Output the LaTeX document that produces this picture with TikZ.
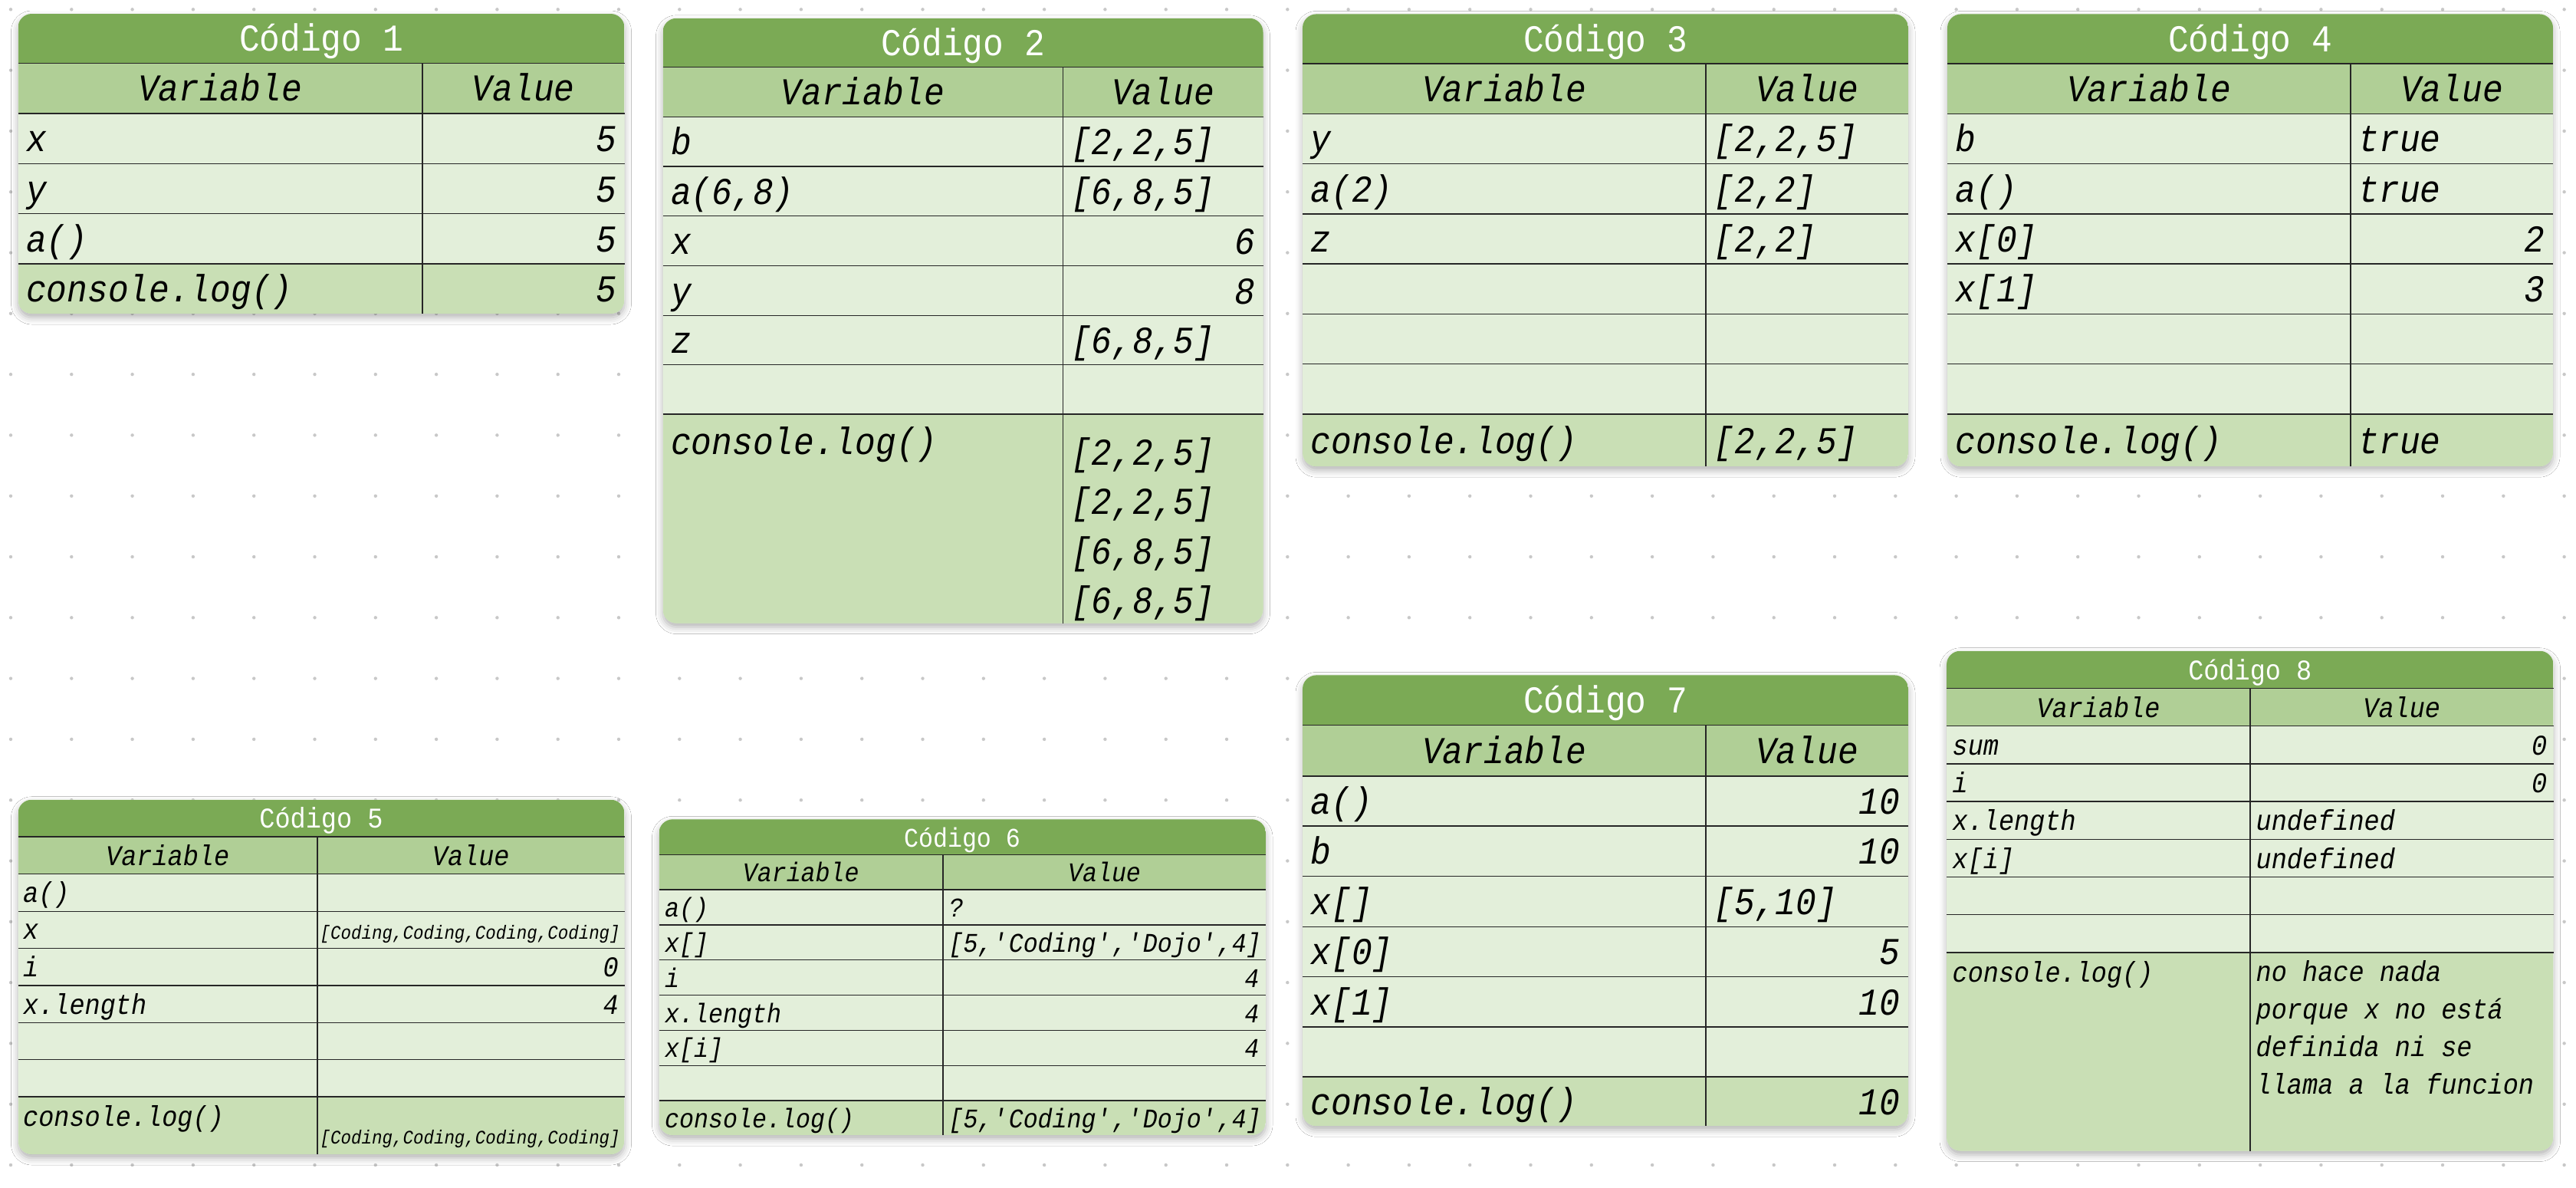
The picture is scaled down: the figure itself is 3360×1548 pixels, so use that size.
\documentclass[tikz,border=0pt]{standalone}
\usepackage{fontspec}
\setmonofont[FakeStretch=0.9]{Liberation Mono}
\usetikzlibrary{shadows.blur}
\definecolor{titlegreen}{HTML}{7BAA55}
\definecolor{headgreen}{HTML}{B0CF96}
\definecolor{rowgreen}{HTML}{E3EFDA}
\definecolor{loggreen}{HTML}{C9DFB5}
\definecolor{dotgrey}{HTML}{C8C8C8}
\tikzset{
  card/.style={fill=rowgreen, rounded corners=.18cm,
    blur shadow={shadow xshift=0pt, shadow yshift=-.05cm, shadow blur radius=.09cm, shadow opacity=30}},
  rule/.style={line width=.4pt, black!85},
  fontA/.style={font=\ttfamily\itshape\fontsize{14.07}{17}\selectfont},
  fontB/.style={font=\ttfamily\itshape\fontsize{10.6}{13}\selectfont},
  fontC/.style={font=\ttfamily\itshape\fontsize{10}{12}\selectfont},
  fontD/.style={font=\ttfamily\itshape\fontsize{7.1}{9}\selectfont},
  var/.style={inner sep=0pt, anchor=base west},
  val/.style={inner sep=0pt, anchor=base east},
  hdr/.style={inner sep=0pt, anchor=base},
  ttl/.style={inner sep=0pt, anchor=base, text=white},
}

\begin{document}
\begin{tikzpicture}[x=0.01cm,y=-0.01cm]
    \useasboundingbox (0,0) rectangle (3360,1548);
    \fill[white] (0,0) rectangle (3360,1548);
    % dotted paper
    \foreach \i in {0,...,42}
      \foreach \j in {0,...,19}
        \fill[dotgrey] (14+79.3*\i,12.3+79.3*\j) circle (.022cm);

    % Codigo 1
    \path[card] (23.5,18) rectangle (814.5,409);
    \begin{scope}
      \clip[rounded corners=.18cm] (23.5,18) rectangle (814.5,409);
      \fill[titlegreen] (23.5,18) rectangle (814.5,82.7);
      \fill[headgreen] (23.5,82.7) rectangle (814.5,148);
      \fill[loggreen] (23.5,344) rectangle (814.5,409);
    \end{scope}
    \foreach \y in {82.7,148,213.3,278.6,344} \draw[rule] (23.5,\y) -- (814.5,\y);
    \draw[rule] (551,82.7) -- (551,409);
    \begin{scope}[fontA]
      \node[ttl] (t1title) at (419,66.7) {\upshape Código 1};
      \node[hdr] (t1hvar) at (287,131.5) {Variable};
      \node[hdr] (t1hval) at (682.75,131.5) {Value};
      \node[var] (t1x) at (33.5,197.7) {x};
      \node[val] (t1xv) at (804.5,197.7) {5};
      \node[var] (t1y) at (33.5,263) {y};
      \node[val] (t1yv) at (804.5,263) {5};
      \node[var] (t1a) at (33.5,328.3) {a()};
      \node[val] (t1av) at (804.5,328.3) {5};
      \node[var] (t1log) at (33.5,393.5) {console.log()};
      \node[val] (t1logv) at (804.5,393.5) {5};
    \end{scope}

    % Codigo 2
    \path[card] (864.5,23.8) rectangle (1647.5,812.6);
    \begin{scope}
      \clip[rounded corners=.18cm] (864.5,23.8) rectangle (1647.5,812.6);
      \fill[titlegreen] (864.5,23.8) rectangle (1647.5,87.3);
      \fill[headgreen] (864.5,87.3) rectangle (1647.5,152.5);
      \fill[loggreen] (864.5,540) rectangle (1647.5,812.6);
    \end{scope}
    \foreach \y in {87.3,152.5,217,281.6,346.7,411.3,475.4,540} \draw[rule] (864.5,\y) -- (1647.5,\y);
    \draw[rule] (1386.5,87.3) -- (1386.5,812.6);
    \begin{scope}[fontA]
      \node[ttl] (t2title) at (1256,72) {\upshape Código 2};
      \node[hdr] (t2hvar) at (1125.5,136) {Variable};
      \node[hdr] (t2hval) at (1517,136) {Value};
      \node[var] (t2b) at (874.5,201.75) {b};
      \node[var] (t2bv) at (1396.5,201.75) {[2,2,5]};
      \node[var] (t2a) at (874.5,266.3) {a(6,8)};
      \node[var] (t2av) at (1396.5,266.3) {[6,8,5]};
      \node[var] (t2x) at (874.5,331.2) {x};
      \node[val] (t2xv) at (1637.5,331.2) {6};
      \node[var] (t2y) at (874.5,396) {y};
      \node[val] (t2yv) at (1637.5,396) {8};
      \node[var] (t2z) at (874.5,460.4) {z};
      \node[var] (t2zv) at (1396.5,460.4) {[6,8,5]};
      \node[var] (t2log) at (874.5,592) {console.log()};
      \node[var] (t2log1) at (1396.5,606) {[2,2,5]};
      \node[var] (t2log2) at (1396.5,670.5) {[2,2,5]};
      \node[var] (t2log3) at (1396.5,735) {[6,8,5]};
      \node[var] (t2log4) at (1396.5,799.5) {[6,8,5]};
    \end{scope}

    % Codigo 3
    \path[card] (1699,18.4) rectangle (2489,608.2);
    \begin{scope}
      \clip[rounded corners=.18cm] (1699,18.4) rectangle (2489,608.2);
      \fill[titlegreen] (1699,18.4) rectangle (2489,82.9);
      \fill[headgreen] (1699,82.9) rectangle (2489,148.2);
      \fill[loggreen] (1699,540) rectangle (2489,608.2);
    \end{scope}
    \foreach \y in {82.9,148.2,213.5,278.8,344,409.4,474.7,540} \draw[rule] (1699,\y) -- (2489,\y);
    \draw[rule] (2225,82.9) -- (2225,608.2);
    \begin{scope}[fontA]
      \node[ttl] (t3title) at (2094,67) {\upshape Código 3};
      \node[hdr] (t3hvar) at (1962,132) {Variable};
      \node[hdr] (t3hval) at (2357,132) {Value};
      \node[var] (t3y) at (1709,197.85) {y};
      \node[var] (t3yv) at (2235,197.85) {[2,2,5]};
      \node[var] (t3a) at (1709,263.15) {a(2)};
      \node[var] (t3av) at (2235,263.15) {[2,2]};
      \node[var] (t3z) at (1709,328.4) {z};
      \node[var] (t3zv) at (2235,328.4) {[2,2]};
      \node[var] (t3log) at (1709,591.1) {console.log()};
      \node[var] (t3logv) at (2235,591.1) {[2,2,5]};
    \end{scope}

    % Codigo 4
    \path[card] (2540,18.4) rectangle (3330,608.2);
    \begin{scope}
      \clip[rounded corners=.18cm] (2540,18.4) rectangle (3330,608.2);
      \fill[titlegreen] (2540,18.4) rectangle (3330,82.9);
      \fill[headgreen] (2540,82.9) rectangle (3330,148.2);
      \fill[loggreen] (2540,540) rectangle (3330,608.2);
    \end{scope}
    \foreach \y in {82.9,148.2,213.5,278.8,344,409.4,474.7,540} \draw[rule] (2540,\y) -- (3330,\y);
    \draw[rule] (3066,82.9) -- (3066,608.2);
    \begin{scope}[fontA]
      \node[ttl] (t4title) at (2935,67) {\upshape Código 4};
      \node[hdr] (t4hvar) at (2803,132) {Variable};
      \node[hdr] (t4hval) at (3198,132) {Value};
      \node[var] (t4b) at (2550,197.85) {b};
      \node[var] (t4bv) at (3076,197.85) {true};
      \node[var] (t4a) at (2550,263.15) {a()};
      \node[var] (t4av) at (3076,263.15) {true};
      \node[var] (t4x0) at (2550,328.4) {x[0]};
      \node[val] (t4x0v) at (3320,328.4) {2};
      \node[var] (t4x1) at (2550,393.7) {x[1]};
      \node[val] (t4x1v) at (3320,393.7) {3};
      \node[var] (t4log) at (2550,591.1) {console.log()};
      \node[var] (t4logv) at (3076,591.1) {true};
    \end{scope}

    % Codigo 5
    \path[card] (23.5,1042.7) rectangle (814.5,1505);
    \begin{scope}
      \clip[rounded corners=.18cm] (23.5,1042.7) rectangle (814.5,1505);
      \fill[titlegreen] (23.5,1042.7) rectangle (814.5,1091);
      \fill[headgreen] (23.5,1091) rectangle (814.5,1139.3);
      \fill[loggreen] (23.5,1430) rectangle (814.5,1505);
    \end{scope}
    \foreach \y in {1091,1139.3,1188.3,1236.7,1285,1333.3,1381.7,1430} \draw[rule] (23.5,\y) -- (814.5,\y);
    \draw[rule] (414,1091) -- (414,1505);
    \begin{scope}[fontB]
      \node[ttl] (t5title) at (419,1079.5) {\upshape Código 5};
      \node[hdr] (t5hvar) at (218.75,1128) {Variable};
      \node[hdr] (t5hval) at (614.25,1128) {Value};
      \node[var] (t5a) at (29.5,1176.8) {a()};
      \node[var] (t5x) at (29.5,1224.5) {x};
      \node[var,fontD] (t5xv) at (417,1224.5) {[Coding,Coding,Coding,Coding]};
      \node[var] (t5i) at (29.5,1273.85) {i};
      \node[val] (t5iv) at (807.5,1273.85) {0};
      \node[var] (t5len) at (29.5,1322) {x.length};
      \node[val] (t5lenv) at (807.5,1322) {4};
      \node[var] (t5log) at (29.5,1468) {console.log()};
      \node[var,fontD] (t5logv) at (417,1491) {[Coding,Coding,Coding,Coding]};
    \end{scope}

    % Codigo 6
    \path[card] (859.5,1068.3) rectangle (1651,1480);
    \begin{scope}
      \clip[rounded corners=.18cm] (859.5,1068.3) rectangle (1651,1480);
      \fill[titlegreen] (859.5,1068.3) rectangle (1651,1114.3);
      \fill[headgreen] (859.5,1114.3) rectangle (1651,1160);
      \fill[loggreen] (859.5,1435) rectangle (1651,1480);
    \end{scope}
    \foreach \y in {1114.3,1160,1206,1251.7,1297.7,1343.3,1389.3,1435} \draw[rule] (859.5,\y) -- (1651,\y);
    \draw[rule] (1230,1114.3) -- (1230,1480);
    \begin{scope}[fontC]
      \node[ttl] (t6title) at (1255,1104) {\upshape Código 6};
      \node[hdr] (t6hvar) at (1044.75,1149.6) {Variable};
      \node[hdr] (t6hval) at (1440.5,1149.6) {Value};
      \node[var] (t6a) at (866.5,1195.5) {a()};
      \node[var] (t6av) at (1237,1195.5) {?};
      \node[var] (t6x) at (866.5,1241.3) {x[]};
      \node[var] (t6xv) at (1237,1241.3) {[5,\textquotesingle Coding\textquotesingle,\textquotesingle Dojo\textquotesingle,4]};
      \node[var] (t6i) at (866.5,1287.2) {i};
      \node[val] (t6iv) at (1643,1287.2) {4};
      \node[var] (t6len) at (866.5,1333) {x.length};
      \node[val] (t6lenv) at (1643,1333) {4};
      \node[var] (t6xi) at (866.5,1378.8) {x[i]};
      \node[val] (t6xiv) at (1643,1378.8) {4};
      \node[var] (t6log) at (866.5,1470) {console.log()};
      \node[var] (t6logv) at (1237,1470) {[5,\textquotesingle Coding\textquotesingle,\textquotesingle Dojo\textquotesingle,4]};
    \end{scope}

    % Codigo 7
    \path[card] (1699,880.4) rectangle (2489,1468.2);
    \begin{scope}
      \clip[rounded corners=.18cm] (1699,880.4) rectangle (2489,1468.2);
      \fill[titlegreen] (1699,880.4) rectangle (2489,945.7);
      \fill[headgreen] (1699,945.7) rectangle (2489,1011.8);
      \fill[loggreen] (1699,1404) rectangle (2489,1468.2);
    \end{scope}
    \foreach \y in {945.7,1011.8,1077.1,1142.4,1208.2,1273.5,1338.8,1404} \draw[rule] (1699,\y) -- (2489,\y);
    \draw[rule] (2225,945.7) -- (2225,1468.2);
    \begin{scope}[fontA]
      \node[ttl] (t7title) at (2094,929.5) {\upshape Código 7};
      \node[hdr] (t7hvar) at (1962,995.75) {Variable};
      \node[hdr] (t7hval) at (2357,995.75) {Value};
      \node[var] (t7a) at (1709,1061.45) {a()};
      \node[val] (t7av) at (2479,1061.45) {10};
      \node[var] (t7b) at (1709,1126.75) {b};
      \node[val] (t7bv) at (2479,1126.75) {10};
      \node[var] (t7x) at (1709,1192.3) {x[]};
      \node[var] (t7xv) at (2235,1192.3) {[5,10]};
      \node[var] (t7x0) at (1709,1257.85) {x[0]};
      \node[val] (t7x0v) at (2479,1257.85) {5};
      \node[var] (t7x1) at (1709,1323.15) {x[1]};
      \node[val] (t7x1v) at (2479,1323.15) {10};
      \node[var] (t7log) at (1709,1453.1) {console.log()};
      \node[val] (t7logv) at (2479,1453.1) {10};
    \end{scope}

    % Codigo 8
    \path[card] (2539,848.7) rectangle (3330.5,1500.5);
    \begin{scope}
      \clip[rounded corners=.18cm] (2539,848.7) rectangle (3330.5,1500.5);
      \fill[titlegreen] (2539,848.7) rectangle (3330.5,897.7);
      \fill[headgreen] (2539,897.7) rectangle (3330.5,946.7);
      \fill[loggreen] (2539,1242) rectangle (3330.5,1500.5);
    \end{scope}
    \foreach \y in {897.7,946.7,996.1,1045.1,1094.6,1143.6,1192.6,1242} \draw[rule] (2539,\y) -- (3330.5,\y);
    \draw[rule] (2935,897.7) -- (2935,1500.5);
    \begin{scope}[fontB]
      \node[ttl] (t8title) at (2934.75,886) {\upshape Código 8};
      \node[hdr] (t8hvar) at (2737,935) {Variable};
      \node[hdr] (t8hval) at (3132.75,935) {Value};
      \node[var] (t8sum) at (2546,984.4) {sum};
      \node[val] (t8sumv) at (3323,984.4) {0};
      \node[var] (t8i) at (2546,1033.6) {i};
      \node[val] (t8iv) at (3323,1033.6) {0};
      \node[var] (t8len) at (2546,1082.85) {x.length};
      \node[var] (t8lenv) at (2942,1082.85) {undefined};
      \node[var] (t8xi) at (2546,1132.1) {x[i]};
      \node[var] (t8xiv) at (2942,1132.1) {undefined};
      \node[var] (t8log) at (2546,1280) {console.log()};
      \node[var] (t8log1) at (2942,1279) {no hace nada};
      \node[var] (t8log2) at (2942,1328) {porque x no está};
      \node[var] (t8log3) at (2942,1377) {definida ni se};
      \node[var] (t8log4) at (2942,1426) {llama a la funcion};
    \end{scope}
\end{tikzpicture}
\end{document}
